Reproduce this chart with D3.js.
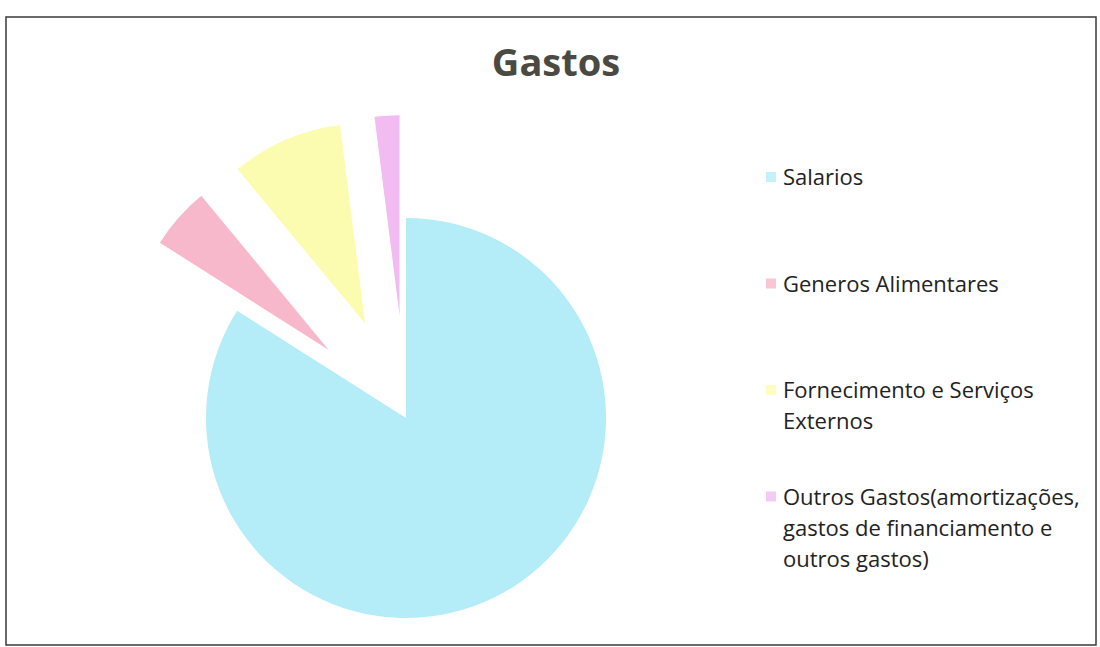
<!DOCTYPE html>
<html>
<head>
<meta charset="utf-8">
<script src="https://cdn.jsdelivr.net/npm/d3@7"></script>
<style>
  body { margin: 0; background: #fff; }
  text { font-family: "Open Sans", Lato, sans-serif; }
</style>
</head>
<body>
<div class="box"></div>
<script>
// data
const categories = ['Salarios', 'Generos Alimentares', 'Fornecimento e Serviços Externos',
                    'Outros Gastos(amortizações, gastos de financiamento e outros gastos)'];
const values = [84, 5, 9, 2];
const exploded = [false, true, true, true];
const colors = ['#b4ecf8', '#f8b8cc', '#fcfcb0', '#f2bcf2'];
const title = 'Gastos';

const width = 1100, height = 647;

const svg = d3.select('.box').append('svg')
              .attr('width', width)
              .attr('height', height);

// frame
svg.append('rect')
   .attr('x', 6).attr('y', 17)
   .attr('width', 1090).attr('height', 628)
   .attr('fill', '#fff')
   .attr('stroke', '#3a3a3a')
   .attr('stroke-width', 1.5);

svg.append('text')
   .attr('x', 556).attr('y', 76)
   .attr('text-anchor', 'middle')
   .attr('font-size', 38)
   .attr('font-weight', 'bold')
   .attr('fill', '#4a4a42')
   .text(title);

// pie
const radius = 200, explode = 103;
const pie = d3.pie().sort(null).value(d => d.v);
const arc = d3.arc().innerRadius(0).outerRadius(radius);
const data = categories.map((c, i) => ({ c, v: values[i], ex: exploded[i], col: colors[i] }));

const g = svg.append('g').attr('transform', 'translate(406,418)');

g.selectAll('path')
 .data(pie(data))
 .join('path')
 .attr('d', arc)
 .attr('fill', d => d.data.col)
 .attr('transform', d => {
   if (!d.data.ex) return null;
   const a = (d.startAngle + d.endAngle) / 2;
   return `translate(${Math.sin(a) * explode},${-Math.cos(a) * explode})`;
 });

// legend
const legend = svg.append('g').attr('transform', 'translate(766,177)');
const item = legend.selectAll('g')
  .data(data)
  .join('g')
  .attr('transform', (d, i) => `translate(0,${i * 106.5})`);

item.append('rect')
    .attr('x', 0).attr('y', -5)
    .attr('width', 10).attr('height', 10)
    .attr('fill', d => d.col)
    .attr('opacity', 0.8);

item.append('text')
    .attr('x', 17).attr('y', 8)
    .attr('font-size', 22)
    .attr('fill', '#222')
    .each(function(d) {
      const t = d3.select(this);
      const words = d.c.split(' ');
      let line = [];
      let tspan = t.append('tspan').attr('x', 17).attr('dy', 0);
      words.forEach(w => {
        line.push(w);
        tspan.text(line.join(' '));
        if (tspan.node().getComputedTextLength() > 318 && line.length > 1) {
          line.pop();
          tspan.text(line.join(' '));
          line = [w];
          tspan = t.append('tspan').attr('x', 17).attr('dy', 31).text(w);
        }
      });
    });
</script>
</body>
</html>
